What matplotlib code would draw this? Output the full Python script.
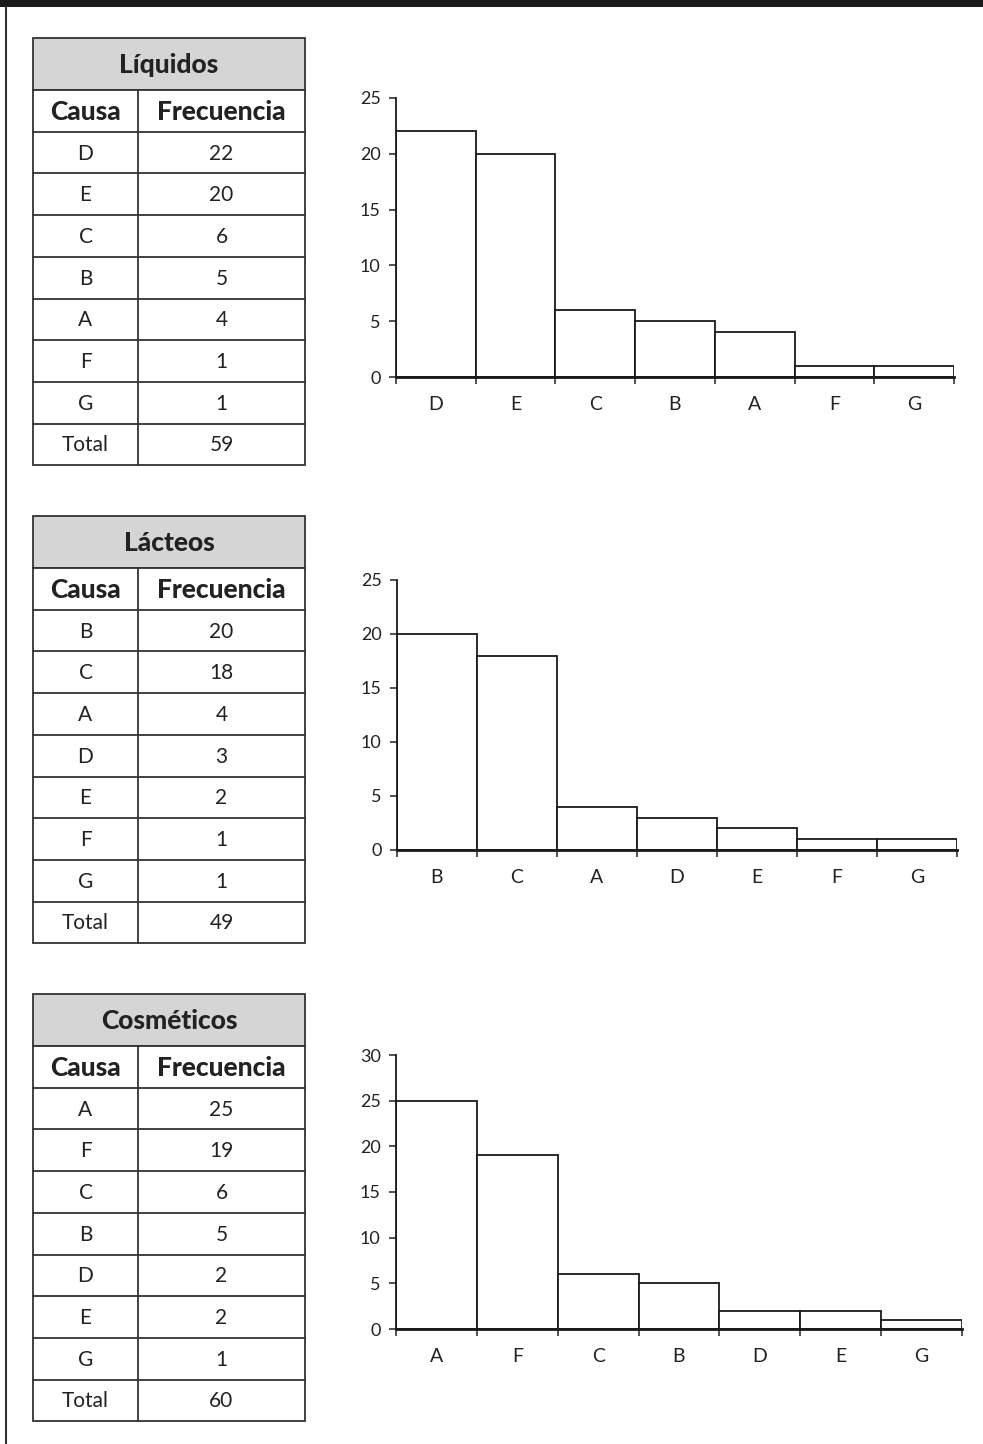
import numpy as np
import matplotlib.pyplot as plt
from matplotlib.patches import Rectangle
from matplotlib.ticker import FixedLocator

plt.rcParams['font.family'] = ['Lato', 'DejaVu Sans']

# data
liq_causes = ['D', 'E', 'C', 'B', 'A', 'F', 'G']
liq_freq = [22, 20, 6, 5, 4, 1, 1]
lac_causes = ['B', 'C', 'A', 'D', 'E', 'F', 'G']
lac_freq = [20, 18, 4, 3, 2, 1, 1]
cos_causes = ['A', 'F', 'C', 'B', 'D', 'E', 'G']
cos_freq = [25, 19, 6, 5, 2, 2, 1]

W, H = 983, 1444
fig = plt.figure(figsize=(W / 100, H / 100), dpi=100)
bg = fig.add_axes([0, 0, 1, 1])
bg.set_xlim(0, W)
bg.set_ylim(H, 0)
bg.axis('off')

# frame: thick top bar + left rule
bg.add_patch(Rectangle((0, 0), W, 7, color='#1a1a1a', lw=0))
bg.plot([6, 6], [7, H], color='#333333', lw=1.5)

LC = '#333333'


def draw_table(top, title, causes, freq):
    x0, xm, x1 = 33, 138, 305
    head_h = 52
    row_h = 41.7
    rows = [(c, str(f)) for c, f in zip(causes, freq)] + [('Total', str(sum(freq)))]
    y_head = top + head_h
    bottom = y_head + row_h * (len(rows) + 1)
    bg.add_patch(Rectangle((x0, top), x1 - x0, head_h, facecolor='#d5d5d5',
                           edgecolor=LC, lw=1.3))
    bg.add_patch(Rectangle((x0, y_head), x1 - x0, bottom - y_head, facecolor='white',
                           edgecolor=LC, lw=1.3))
    bg.text((x0 + x1) / 2, top + head_h / 2 + 1, title, ha='center', va='center',
            fontsize=19, fontweight='black', color='#222222')
    bg.plot([xm, xm], [y_head, bottom], color=LC, lw=1.3)
    bg.text((x0 + xm) / 2, y_head + row_h / 2 + 1, 'Causa', ha='center', va='center',
            fontsize=19, fontweight='black', color='#222222')
    bg.text((xm + x1) / 2, y_head + row_h / 2 + 1, 'Frecuencia', ha='center', va='center',
            fontsize=19, fontweight='black', color='#222222')
    for i, (c, v) in enumerate(rows):
        y = y_head + row_h * (i + 1)
        bg.plot([x0, x1], [y, y], color=LC, lw=1.3)
        yc = y + row_h / 2 + 1
        bg.text((x0 + xm) / 2, yc, c, ha='center', va='center', fontsize=15, color='#222222')
        bg.text((xm + x1) / 2, yc, v, ha='center', va='center', fontsize=15, color='#222222')


def draw_chart(x_left, x_right, y_zero, y_top, ymax, causes, freq):
    ax = fig.add_axes([x_left / W, (H - y_zero) / H, (x_right - x_left) / W,
                       (y_zero - y_top) / H])
    ax.bar(np.arange(len(freq)), freq, width=1.0, align='edge', color='white',
           edgecolor='#1a1a1a', lw=1.3)
    ax.set_xlim(0, len(freq))
    ax.set_ylim(0, ymax)
    ax.set_yticks(np.arange(0, ymax + 1, 5))
    ax.set_xticks(np.arange(len(freq)) + 0.5)
    ax.set_xticklabels(causes)
    ax.xaxis.set_minor_locator(FixedLocator(np.arange(len(freq) + 1)))
    ax.tick_params(axis='x', which='major', length=0, pad=14, labelsize=14, labelcolor='#222222')
    ax.tick_params(axis='x', which='minor', length=5, width=1.2, direction='out', color='#333333')
    ax.tick_params(axis='y', length=5, width=1.2, direction='out', pad=6, labelsize=13,
                   color='#333333', labelcolor='#222222')
    for s in ['top', 'right']:
        ax.spines[s].set_visible(False)
    ax.spines['left'].set_linewidth(1.3)
    ax.spines['bottom'].set_linewidth(2.0)
    ax.spines['left'].set_color('#1a1a1a')
    ax.spines['bottom'].set_color('#1a1a1a')
    ax.patch.set_alpha(0)


draw_table(38, 'Líquidos', liq_causes, liq_freq)
draw_table(516, 'Lácteos', lac_causes, lac_freq)
draw_table(994, 'Cosméticos', cos_causes, cos_freq)

draw_chart(396, 954, 377, 98, 25, liq_causes, liq_freq)
draw_chart(397, 957, 850, 580, 25, lac_causes, lac_freq)
draw_chart(396, 962, 1329, 1055, 30, cos_causes, cos_freq)

fig.savefig('out.png', dpi=100)
